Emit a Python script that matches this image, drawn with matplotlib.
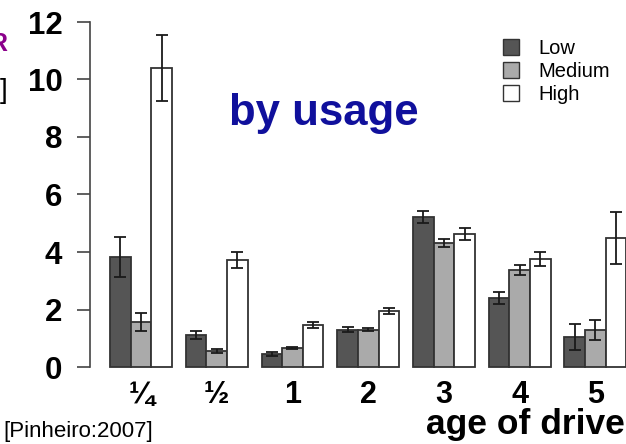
import matplotlib
matplotlib.use("Agg")
import matplotlib.pyplot as plt
import matplotlib.patches as mpatches
import numpy as np

plt.rcParams['font.family'] = ['Liberation Sans', 'DejaVu Sans']

# annualised failure rate (%) by drive age and utilisation level
ages = ['\u00bc', '\u00bd', '1', '2', '3', '4', '5']
series_names = ['Low', 'Medium', 'High']
low = [3.83, 1.11, 0.46, 1.30, 5.22, 2.40, 1.04]
low_err = [0.70, 0.15, 0.06, 0.08, 0.21, 0.20, 0.45]
medium = [1.57, 0.56, 0.67, 1.30, 4.32, 3.37, 1.30]
medium_err = [0.32, 0.08, 0.03, 0.06, 0.13, 0.17, 0.35]
high = [10.39, 3.72, 1.45, 1.95, 4.63, 3.76, 4.50]
high_err = [1.15, 0.29, 0.11, 0.10, 0.20, 0.23, 0.90]

values = [low, medium, high]
errors = [low_err, medium_err, high_err]
colors = ['#555555', '#aaaaaa', '#ffffff']

W, H = 626, 444
fig = plt.figure(figsize=(W / 100, H / 100), dpi=100)
ax = fig.add_axes([90 / W, (H - 367) / H, (W - 90) / W, 345 / H])

group_step = 3.67
group_x = np.arange(len(ages)) * group_step
for i, (vals, errs, col) in enumerate(zip(values, errors, colors)):
    xs = group_x + i + 0.5
    ax.bar(xs, vals, width=1.0, color=col, edgecolor='#333333',
           linewidth=1.3, clip_on=False, label=series_names[i])
    ax.errorbar(xs, vals, yerr=errs, fmt='none', ecolor='#1a1a1a',
                elinewidth=1.3, capsize=4.4, capthick=1.3, clip_on=False)

ax.set_xlim(-0.97, 25.0)
ax.set_ylim(0, 12)

for s in ['top', 'right', 'bottom']:
    ax.spines[s].set_visible(False)
ax.spines['left'].set_bounds(0, 12)
ax.spines['left'].set_color('#444444')
ax.spines['left'].set_linewidth(1.2)

ax.set_yticks([0, 2, 4, 6, 8, 10, 12])
ax.tick_params(axis='y', direction='out', length=9.4, width=1.2,
               color='#444444', pad=10.5, labelsize=22.5)
for lab in ax.get_yticklabels():
    lab.set_fontweight('bold')

ax.set_xticks(group_x + 1.5)
ax.set_xticklabels(ages, fontsize=22, fontweight='bold')
ax.tick_params(axis='x', length=0, pad=9)

handles = [mpatches.Patch(facecolor=c, edgecolor='#333333', linewidth=1.0, label=n)
           for c, n in zip(colors, series_names)]
fig.legend(handles=handles, loc='upper left', bbox_to_anchor=(503 / W, (H - 39) / H),
           frameon=False, fontsize=14.5, handlelength=0.8, handleheight=0.8,
           handletextpad=0.95, labelspacing=0.2, borderpad=0, borderaxespad=0)

fig.text(229 / W, (H - 125) / H, 'by usage', color='#10109c', fontsize=31.5,
         fontweight='bold', ha='left', va='baseline')
fig.text(625 / W, (H - 434) / H, 'age of drive', fontsize=25.5,
         fontweight='bold', ha='right', va='baseline')
fig.text(3 / W, (H - 437) / H, '[Pinheiro:2007]', fontsize=16,
         ha='left', va='baseline')
fig.text(7 / W, (H - 51) / H, 'R', color='#8b008b', fontsize=18,
         fontweight='bold', ha='right', va='baseline')
fig.text(7 / W, (H - 98) / H, ']', fontsize=20, ha='right', va='baseline')

fig.savefig('out.png', dpi=100)
